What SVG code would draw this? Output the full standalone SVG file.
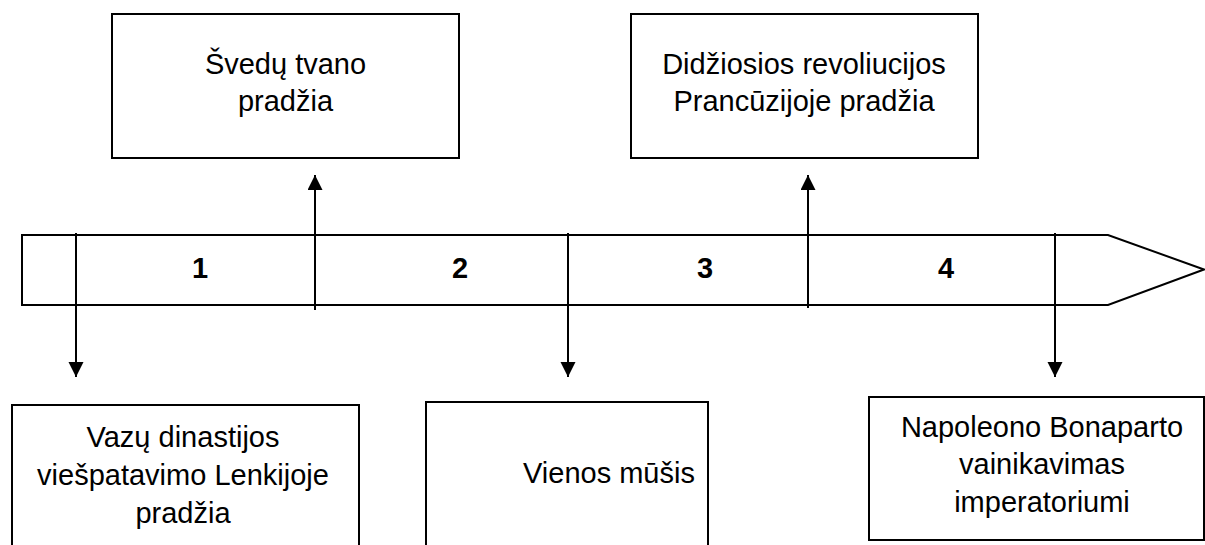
<svg xmlns="http://www.w3.org/2000/svg" width="1205" height="545" viewBox="0 0 1205 545">
<style>
.box{fill:#fff;stroke:#000;stroke-width:2}
.ln{stroke:#000;stroke-width:2;fill:none}
.t{font-family:"Liberation Sans",Arial,sans-serif;font-size:29px;fill:#000;text-anchor:middle}
.n{font-family:"Liberation Sans",Arial,sans-serif;font-size:29px;font-weight:bold;fill:#000;text-anchor:middle}
</style>
<defs>
<marker id="ah" markerUnits="userSpaceOnUse" markerWidth="16" markerHeight="16" refX="15" refY="7.5" orient="auto">
<path d="M0,0 L15,7.5 L0,15 Z" fill="#000"/>
</marker>
</defs>
<rect width="1205" height="545" fill="#fff"/>
<g id="timeline">
<polygon class="ln" points="22,235 1108,235 1204,269.5 1108,305 22,305"/>
<text class="n" x="200" y="278">1</text>
<text class="n" x="460" y="278">2</text>
<text class="n" x="705" y="278">3</text>
<text class="n" x="946" y="278">4</text>
</g>
<g id="connectors">
<line class="ln" x1="76" y1="233" x2="76" y2="377" marker-end="url(#ah)"/>
<line class="ln" x1="315" y1="310" x2="315" y2="175" marker-end="url(#ah)"/>
<line class="ln" x1="568" y1="233" x2="568" y2="377" marker-end="url(#ah)"/>
<line class="ln" x1="808" y1="308" x2="808" y2="175" marker-end="url(#ah)"/>
<line class="ln" x1="1055" y1="233" x2="1055" y2="377" marker-end="url(#ah)"/>
</g>
<g id="node-svedu">
<rect class="box" x="112" y="14" width="347" height="144"/>
<text class="t" x="285.5" y="74">Švedų tvano</text>
<text class="t" x="285.5" y="111">pradžia</text>
</g>
<g id="node-revoliucija">
<rect class="box" x="631" y="14" width="347" height="144"/>
<text class="t" x="804" y="74">Didžiosios revoliucijos</text>
<text class="t" x="804" y="111">Prancūzijoje pradžia</text>
</g>
<g id="node-vazu">
<rect class="box" x="12" y="405" width="347" height="160"/>
<text class="t" x="183" y="447">Vazų dinastijos</text>
<text class="t" x="183" y="485">viešpatavimo Lenkijoje</text>
<text class="t" x="183" y="523">pradžia</text>
</g>
<g id="node-vienos">
<rect class="box" x="426" y="402" width="282" height="160"/>
<text class="t" x="523" y="483" style="text-anchor:start">Vienos mūšis</text>
</g>
<g id="node-napoleonas">
<rect class="box" x="869" y="397" width="335" height="143"/>
<text class="t" x="1042" y="437">Napoleono Bonaparto</text>
<text class="t" x="1042" y="474">vainikavimas</text>
<text class="t" x="1042" y="512">imperatoriumi</text>
</g>
</svg>
